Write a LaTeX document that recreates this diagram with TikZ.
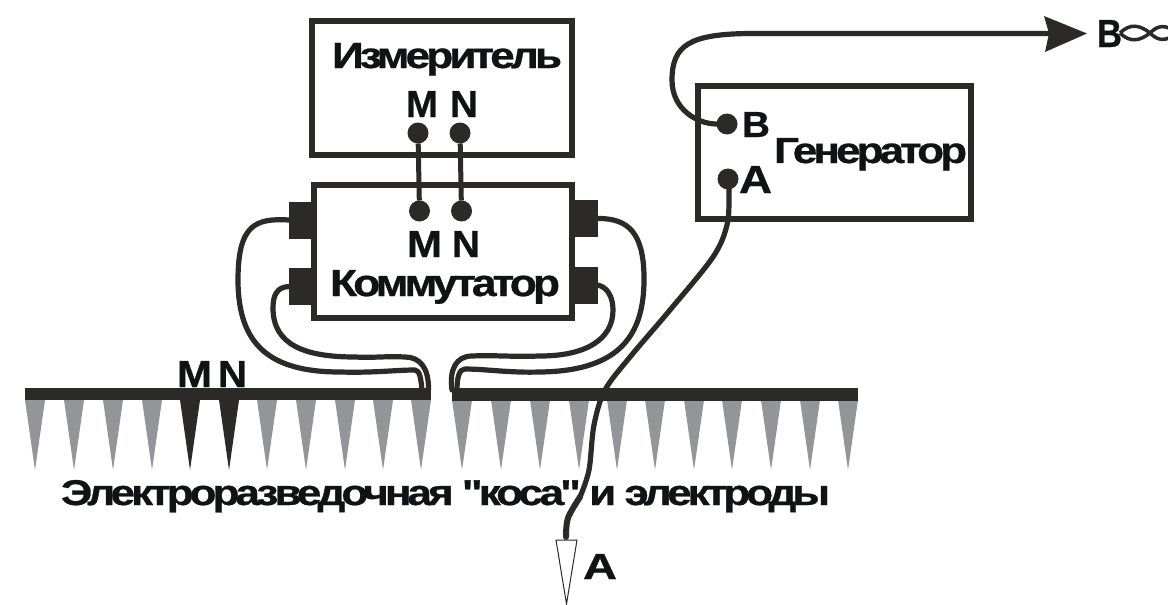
\documentclass[tikz,border=0pt]{standalone}
\usepackage{graphicx}
\usepackage{fontspec}
\setmainfont[LetterSpace=-9,Ligatures=TeXOff,BoldFeatures={FakeBold=0.7}]{Liberation Sans}
\definecolor{ink}{HTML}{2B2A29}
\definecolor{txt}{HTML}{111214}
\definecolor{spike}{HTML}{939598}
\newcommand{\fitlabel}[3]{\resizebox{#1pt}{#2pt}{\bfseries #3}}
\tikzset{
  device/.style={draw=ink,line width=6pt,rectangle,inner sep=0pt,outer sep=0pt},
  port/.style={fill=ink,draw=none,rectangle,inner sep=0pt,outer sep=0pt,minimum width=25pt,minimum height=37pt},
  dot/.style={fill=ink,draw=none,circle,inner sep=0pt,outer sep=0pt,minimum size=21pt},
  lbl/.style={anchor=base west,inner sep=0pt,outer sep=0pt,text=txt},
  wire/.style={draw=ink,line width=5.2pt,line cap=round,line join=round},
  link/.style={draw=ink,line width=5pt},
}
\begin{document}
\begin{tikzpicture}[x=1pt,y=-1pt]
\useasboundingbox (0,0) rectangle (1168,605);
% boxes
\node[device,minimum width=260pt,minimum height=134pt] (meter) at (442,88) {};
\node[device,minimum width=258pt,minimum height=133pt] (comm) at (443,251.5) {};
\node[device,minimum width=273pt,minimum height=133pt] (gen) at (834.5,152.5) {};
% ports
\node[port] (pl1) at (301.5,220) {};
\node[port] (pl2) at (301.5,286.5) {};
\node[port] (pr1) at (585,218.5) {};
\node[port] (pr2) at (585,285) {};
% dots
\node[dot] (mM) at (418,133) {};
\node[dot] (mN) at (460,133) {};
\node[dot] (cM) at (419.5,211) {};
\node[dot] (cN) at (461.5,211) {};
\node[dot] (gB) at (727,124) {};
\node[dot] (gA) at (728,179) {};
% spikes and bars
\foreach \x in {35,74,113,152,267,306,345,383,421,462,501,540,579,617,655,694,732,771,810,848}
  \fill[spike] (\x-10,400) -- (\x+10,400) -- (\x,470) -- cycle;
\foreach \x in {190,229}
  \fill[ink] (\x-10,400) -- (\x+10,400) -- (\x,470) -- cycle;
\node[fill=ink,inner sep=0pt,outer sep=0pt,minimum width=406pt,minimum height=12.5pt] (barL) at (228,394.2) {};
\node[fill=ink,inner sep=0pt,outer sep=0pt,minimum width=406pt,minimum height=12.5pt] (barR) at (655,394.7) {};
% labels
\node[lbl] (t1) at (332,68) {\fitlabel{230}{25}{Измеритель}};
\node[lbl] (t2) at (406,117) {\fitlabel{32}{26}{M}};
\node[lbl] (t2b) at (450,117) {\fitlabel{28}{26}{N}};
\node[lbl] (t3) at (407,257) {\fitlabel{35}{26}{M}};
\node[lbl] (t3b) at (452,257) {\fitlabel{28}{26}{N}};
\node[lbl] (t4) at (330,296) {\fitlabel{230}{26}{Коммутатор}};
\node[lbl] (t5) at (774,163) {\fitlabel{193}{25}{Генератор}};
\node[lbl] (t6) at (742,137) {\fitlabel{28}{25}{B}};
\node[lbl] (t7) at (739,193) {\fitlabel{33}{27}{A}};
\node[lbl] (t8) at (177,387) {\fitlabel{35}{26}{M}};
\node[lbl] (t8b) at (218,387) {\fitlabel{29}{26}{N}};
\node[lbl] (t9) at (61,505) {\fitlabel{769}{25}{Электроразведочная "коса" и электроды}};
\node[lbl] (t10) at (583,579) {\fitlabel{34}{25}{A}};
\node[lbl] (t11) at (1097,47) {\fitlabel{25}{27}{B}};
% twist after the far label
\coordinate (tw0) at (1120,33);
\coordinate (tw1) at (1150,33);
\coordinate (tw2) at (1178,33);
\draw[ink,line width=3.5pt] (tw0) .. controls (1130,23) and (1140,25) .. (tw1) .. controls (1158,41) and (1165,42) .. (tw2);
\draw[ink,line width=3.5pt] (tw0) .. controls (1130,43) and (1140,41) .. (tw1) .. controls (1158,25) and (1165,24) .. (tw2);
% meter to commutator
\draw[link] (mM) -- (cM);
\draw[link] (mN) -- (cN);
% commutator wires
\coordinate (dl1) at (422,390);
\coordinate (dl2) at (428.5,390);
\coordinate (dr1) at (457,390);
\coordinate (dr2) at (452,390);
\draw[wire] (pl1.west) .. controls (255,218) and (238,225) .. (238,280) .. controls (238,345) and (270,372) .. (340,372) .. controls (375,373) and (395,370) .. (415,370) .. controls (420,370) and (421,380) .. (dl1);
\draw[wire] (pl2.west) .. controls (277,287) and (273,295) .. (273,308) .. controls (273,345) and (305,357) .. (355,357) .. controls (375,358) and (385,356) .. (405,357) .. controls (420,357) and (429,368) .. (dl2);
\draw[wire] (pr1.east) .. controls (630,218) and (643,235) .. (644,275) .. controls (645,330) and (625,371) .. (540,372) .. controls (510,373) and (485,369) .. (465,369) .. controls (459,369) and (457,378) .. (dr1);
\draw[wire] (pr2.east) .. controls (608,287) and (613,298) .. (613,310) .. controls (613,340) and (585,356) .. (540,356) .. controls (510,357) and (495,355) .. (472,356) .. controls (456,356) and (449,370) .. (dr2);
% generator A wire and electrode
\coordinate (eA) at (566,540);
\draw[draw=ink,line width=1pt] (556,540) -- (577,540) -- (566.5,604) -- cycle;
\draw[wire] plot[smooth,tension=.55] coordinates {(gA) (729,195) (727,225) (713,257) (670,310) (630,357) (605,390) (594,425) (589,470) (580,497)};
\draw[draw=ink,line width=6pt,line cap=round] plot[smooth,tension=.55] coordinates {(580,497) (568,518) (566,537)};
% generator B wire and arrowhead
\coordinate (arrowEnd) at (1049,33.5);
\draw[wire] (gB) .. controls (698,124) and (672,110) .. (672,80) .. controls (672,45) and (690,34) .. (750,33.5) -- (arrowEnd);
\fill[ink] (1087,33.5) -- (1044,16) -- (arrowEnd) -- (1045,52) -- cycle;
\end{tikzpicture}
\end{document}
